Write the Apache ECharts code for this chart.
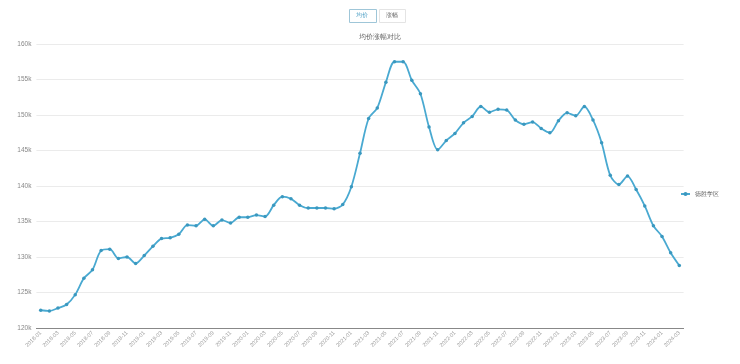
<!DOCTYPE html>
<html>
<head>
<meta charset="utf-8">
<script src="https://cdn.jsdelivr.net/npm/echarts@6/dist/echarts.min.js"></script>
<style>
html,body{margin:0;padding:0;background:#fff;}
#chart{width:740px;height:364px;}
</style>
</head>
<body>
<div id="chart"></div>
<script>
const months = [
  '2018-01','2018-02','2018-03','2018-04','2018-05','2018-06','2018-07','2018-08','2018-09','2018-10','2018-11','2018-12',
  '2019-01','2019-02','2019-03','2019-04','2019-05','2019-06','2019-07','2019-08','2019-09','2019-10','2019-11','2019-12',
  '2020-01','2020-02','2020-03','2020-04','2020-05','2020-06','2020-07','2020-08','2020-09','2020-10','2020-11','2020-12',
  '2021-01','2021-02','2021-03','2021-04','2021-05','2021-06','2021-07','2021-08','2021-09','2021-10','2021-11','2021-12',
  '2022-01','2022-02','2022-03','2022-04','2022-05','2022-06','2022-07','2022-08','2022-09','2022-10','2022-11','2022-12',
  '2023-01','2023-02','2023-03','2023-04','2023-05','2023-06','2023-07','2023-08','2023-09','2023-10','2023-11','2023-12',
  '2024-01','2024-02','2024-03'
];
const seriesName = '德胜学区';
const avgPrice = [
  122500,122400,122800,123300,124700,127000,128200,130900,131100,129800,130000,129100,
  130200,131500,132600,132700,133200,134500,134400,135300,134400,135200,134800,135600,
  135600,135900,135700,137300,138500,138200,137300,136900,136900,136900,136800,137400,
  139900,144600,149500,151000,154600,157500,157500,154900,153000,148300,145100,146400,
  147400,148900,149800,151200,150400,150800,150700,149300,148700,149000,148100,147500,
  149200,150300,149900,151200,149300,146100,141500,140200,141400,139500,137200,134400,
  132900,130600,128800
];
const yTicks = { min: 120000, max: 160000, step: 5000 };
const buttonLabels = ['均价', '涨幅'];
const subtitle = '均价涨幅对比';

const chart = echarts.init(document.getElementById('chart'));
chart.setOption({
  animation: false,
  backgroundColor: '#fff',
  title: {
    text: subtitle,
    left: 375,
    top: 29,
    textAlign: 'center',
    textStyle: { fontSize: 6.5, fontWeight: 'normal', color: '#666' }
  },
  graphic: [
    { type: 'rect', left: 349, top: 9, shape: { width: 27, height: 13 },
      style: { fill: '#fff', stroke: '#9fc6d8', lineWidth: 1 } },
    { type: 'text', left: 356, top: 12.5, style: { text: buttonLabels[0], fontSize: 6, fill: '#4a9ec4' } },
    { type: 'rect', left: 379, top: 9, shape: { width: 26, height: 13 },
      style: { fill: '#fff', stroke: '#e4e4e4', lineWidth: 1 } },
    { type: 'text', left: 386, top: 12.5, style: { text: buttonLabels[1], fontSize: 6, fill: '#666' } }
  ],
  legend: {
    orient: 'vertical',
    right: 16,
    top: 186,
    itemWidth: 9,
    itemHeight: 5,
    itemGap: 4,
    textStyle: { fontSize: 5.5, color: '#555' },
    data: [seriesName]
  },
  grid: { left: 36.4, right: 56.4, top: 44, bottom: 36, containLabel: false },
  xAxis: {
    type: 'category',
    data: months,
    boundaryGap: true,
    axisLine: { lineStyle: { color: '#888', width: 1 } },
    axisTick: { show: false },
    axisLabel: { interval: 1, rotate: 45, fontSize: 5.5, color: '#999', margin: 4 }
  },
  yAxis: {
    type: 'value',
    min: yTicks.min,
    max: yTicks.max,
    interval: yTicks.step,
    axisLine: { show: false },
    axisTick: { show: false },
    splitLine: { lineStyle: { color: '#ebebeb', width: 1 } },
    axisLabel: { fontSize: 6.5, color: '#888', margin: 5,
      formatter: v => (v / 1000) + 'k' }
  },
  series: [{
    name: seriesName,
    type: 'line',
    data: avgPrice,
    smooth: 0.3,
    symbol: 'circle',
    symbolSize: 3.5,
    lineStyle: { color: '#49a9d1', width: 1.8 },
    itemStyle: { color: '#3a98bf' }
  }]
});
</script>
</body>
</html>
